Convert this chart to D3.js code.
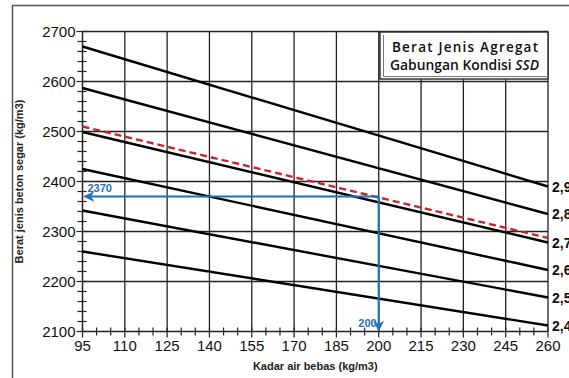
<!DOCTYPE html>
<html lang="id">
<head>
<meta charset="UTF-8">
<title>Berat Jenis Beton Segar</title>
<script src="https://d3js.org/d3.v7.min.js"></script>
<style>
  body { margin: 0; background: #fff; }
  svg text { font-family: "Liberation Sans", Arial, sans-serif; }
</style>
</head>
<body>
<div id="chart"></div>
<script>
// data
const kadarAir = [95, 260];                         // ujung kiri & kanan garis
const labelBJ = ["2,9", "2,8", "2,7", "2,6", "2,5", "2,4"];
const bjKiri  = [2670, 2587, 2499, 2425, 2342, 2260];
const bjKanan = [2390, 2335, 2278, 2223, 2168, 2112];
const garisSSD = [2510, 2287];                      // garis merah putus-putus
const bacaX = 200, bacaY = 2370;                    // pembacaan (panah biru)
const xTicks = d3.range(95, 261, 15);
const yTicks = d3.range(2100, 2701, 100);

const W = 569, H = 378;
const svg = d3.select("#chart").append("svg")
  .attr("width", W).attr("height", H);

// bingkai luar
svg.append("rect")
  .attr("x", 12.5).attr("y", 5.5)
  .attr("width", 600).attr("height", 400)
  .attr("fill", "none").attr("stroke", "#555").attr("stroke-width", 1.5);

const x = d3.scaleLinear().domain([95, 260]).range([82.5, 548]);
const y = d3.scaleLinear().domain([2100, 2700]).range([331.5, 31.5]);

// grid
svg.append("g").selectAll("line").data(xTicks.slice(1)).join("line")
  .attr("x1", d => x(d)).attr("x2", d => x(d))
  .attr("y1", y(2700)).attr("y2", y(2100))
  .attr("stroke", "#222").attr("stroke-width", 1.3);
svg.append("g").selectAll("line").data(yTicks.slice(1)).join("line")
  .attr("x1", x(95)).attr("x2", x(260))
  .attr("y1", d => y(d)).attr("y2", d => y(d))
  .attr("stroke", "#222").attr("stroke-width", 1.3);

// sumbu
svg.append("line").attr("x1", x(95)).attr("x2", x(95))
  .attr("y1", y(2700)).attr("y2", y(2100))
  .attr("stroke", "#222").attr("stroke-width", 1.5);
svg.append("line").attr("x1", x(95)).attr("x2", x(260))
  .attr("y1", y(2100)).attr("y2", y(2100))
  .attr("stroke", "#222").attr("stroke-width", 1.5);

// tick kecil
svg.append("g").selectAll("line").data(d3.range(2100, 2701, 20)).join("line")
  .attr("x1", d => x(95) - (d % 100 === 0 ? 6 : 5)).attr("x2", x(95) + 4)
  .attr("y1", d => y(d)).attr("y2", d => y(d))
  .attr("stroke", "#222").attr("stroke-width", 1.2);
svg.append("g").selectAll("line").data(d3.range(95, 261, 5)).join("line")
  .attr("x1", d => x(d)).attr("x2", d => x(d))
  .attr("y1", y(2100) - 4).attr("y2", d => y(2100) + ((d - 95) % 15 === 0 ? 6 : 4))
  .attr("stroke", "#222").attr("stroke-width", 1.2);

// label tick
svg.append("g").selectAll("text").data(yTicks).join("text")
  .attr("x", x(95) - 7).attr("y", d => y(d) + 5)
  .attr("text-anchor", "end").attr("font-size", 15).attr("fill", "#111")
  .text(d => d);
svg.append("g").selectAll("text").data(xTicks).join("text")
  .attr("x", d => x(d)).attr("y", y(2100) + 19)
  .attr("text-anchor", "middle").attr("font-size", 15).attr("fill", "#111")
  .text(d => d);

// judul sumbu
svg.append("text")
  .attr("transform", `translate(23,${(y(2700) + y(2100)) / 2}) rotate(-90)`)
  .attr("text-anchor", "middle").attr("font-size", 11).attr("font-weight", "bold")
  .attr("fill", "#222").text("Berat jenis beton segar (kg/m3)");
svg.append("text")
  .attr("x", (x(95) + x(260)) / 2).attr("y", 370)
  .attr("text-anchor", "middle").attr("font-size", 11).attr("font-weight", "bold")
  .attr("fill", "#222").text("Kadar air bebas (kg/m3)");

// garis berat jenis agregat
const garis = labelBJ.map((lbl, i) => ({ lbl, v: [bjKiri[i], bjKanan[i]] }));
svg.append("g").selectAll("line").data(garis).join("line")
  .attr("x1", x(kadarAir[0])).attr("x2", x(kadarAir[1]))
  .attr("y1", d => y(d.v[0])).attr("y2", d => y(d.v[1]))
  .attr("stroke", "#000").attr("stroke-width", 2.4);
svg.append("g").selectAll("text").data(garis).join("text")
  .attr("x", x(260) + 4).attr("y", d => y(d.v[1]) + 5)
  .attr("font-size", 14).attr("font-weight", "bold").attr("fill", "#111")
  .text(d => d.lbl);

// garis SSD
svg.append("line")
  .attr("x1", x(kadarAir[0])).attr("x2", x(kadarAir[1]))
  .attr("y1", y(garisSSD[0])).attr("y2", y(garisSSD[1]))
  .attr("stroke", "#c8262c").attr("stroke-width", 2.4)
  .attr("stroke-dasharray", "7,4");

// panah pembacaan
const biru = "#1f72b8";
svg.append("defs").append("marker")
  .attr("id", "panah").attr("viewBox", "0 0 10 10")
  .attr("refX", 9).attr("refY", 5)
  .attr("markerWidth", 5).attr("markerHeight", 5)
  .attr("orient", "auto-start-reverse")
  .append("path").attr("d", "M0,0 L10,5 L0,10 L3,5 Z").attr("fill", biru);

svg.append("line")
  .attr("x1", x(bacaX)).attr("x2", x(95) + 2)
  .attr("y1", y(bacaY)).attr("y2", y(bacaY))
  .attr("stroke", biru).attr("stroke-width", 2.2)
  .attr("marker-end", "url(#panah)");
svg.append("line")
  .attr("x1", x(bacaX)).attr("x2", x(bacaX))
  .attr("y1", y(bacaY)).attr("y2", y(2100) - 1)
  .attr("stroke", biru).attr("stroke-width", 2.2)
  .attr("marker-end", "url(#panah)");
svg.append("text")
  .attr("x", x(95) + 5).attr("y", y(bacaY) - 5)
  .attr("font-size", 11).attr("font-weight", "bold").attr("fill", biru)
  .text(bacaY);
svg.append("text")
  .attr("x", x(bacaX) - 2).attr("y", y(2100) - 5)
  .attr("text-anchor", "end")
  .attr("font-size", 11).attr("font-weight", "bold").attr("fill", biru)
  .text(bacaX);

// kotak judul
const kotak = svg.append("g");
kotak.append("rect")
  .attr("x", 380).attr("y", 32).attr("width", 168).attr("height", 47)
  .attr("fill", "#fff").attr("stroke", "#333").attr("stroke-width", 1.5);
kotak.append("path")
  .attr("d", "M383.5,35 L383.5,76.5 L548,76.5")
  .attr("fill", "none").attr("stroke", "#777").attr("stroke-width", 1);
const fontKotak = "'Open Sans', 'Noto Sans', sans-serif";
kotak.append("text")
  .attr("x", 392).attr("y", 52)
  .style("font-family", fontKotak).attr("font-weight", 600)
  .attr("font-size", 13.5).attr("fill", "#111")
  .attr("textLength", 146).attr("lengthAdjust", "spacing")
  .text("Berat  Jenis  Agregat");
const t2 = kotak.append("text")
  .attr("x", 390).attr("y", 70)
  .style("font-family", fontKotak).attr("font-weight", 600)
  .attr("font-size", 13.5).attr("fill", "#111")
  .attr("textLength", 149).attr("lengthAdjust", "spacingAndGlyphs");
t2.append("tspan").text("Gabungan Kondisi ");
t2.append("tspan").attr("font-style", "italic").text("SSD");
</script>
</body>
</html>
